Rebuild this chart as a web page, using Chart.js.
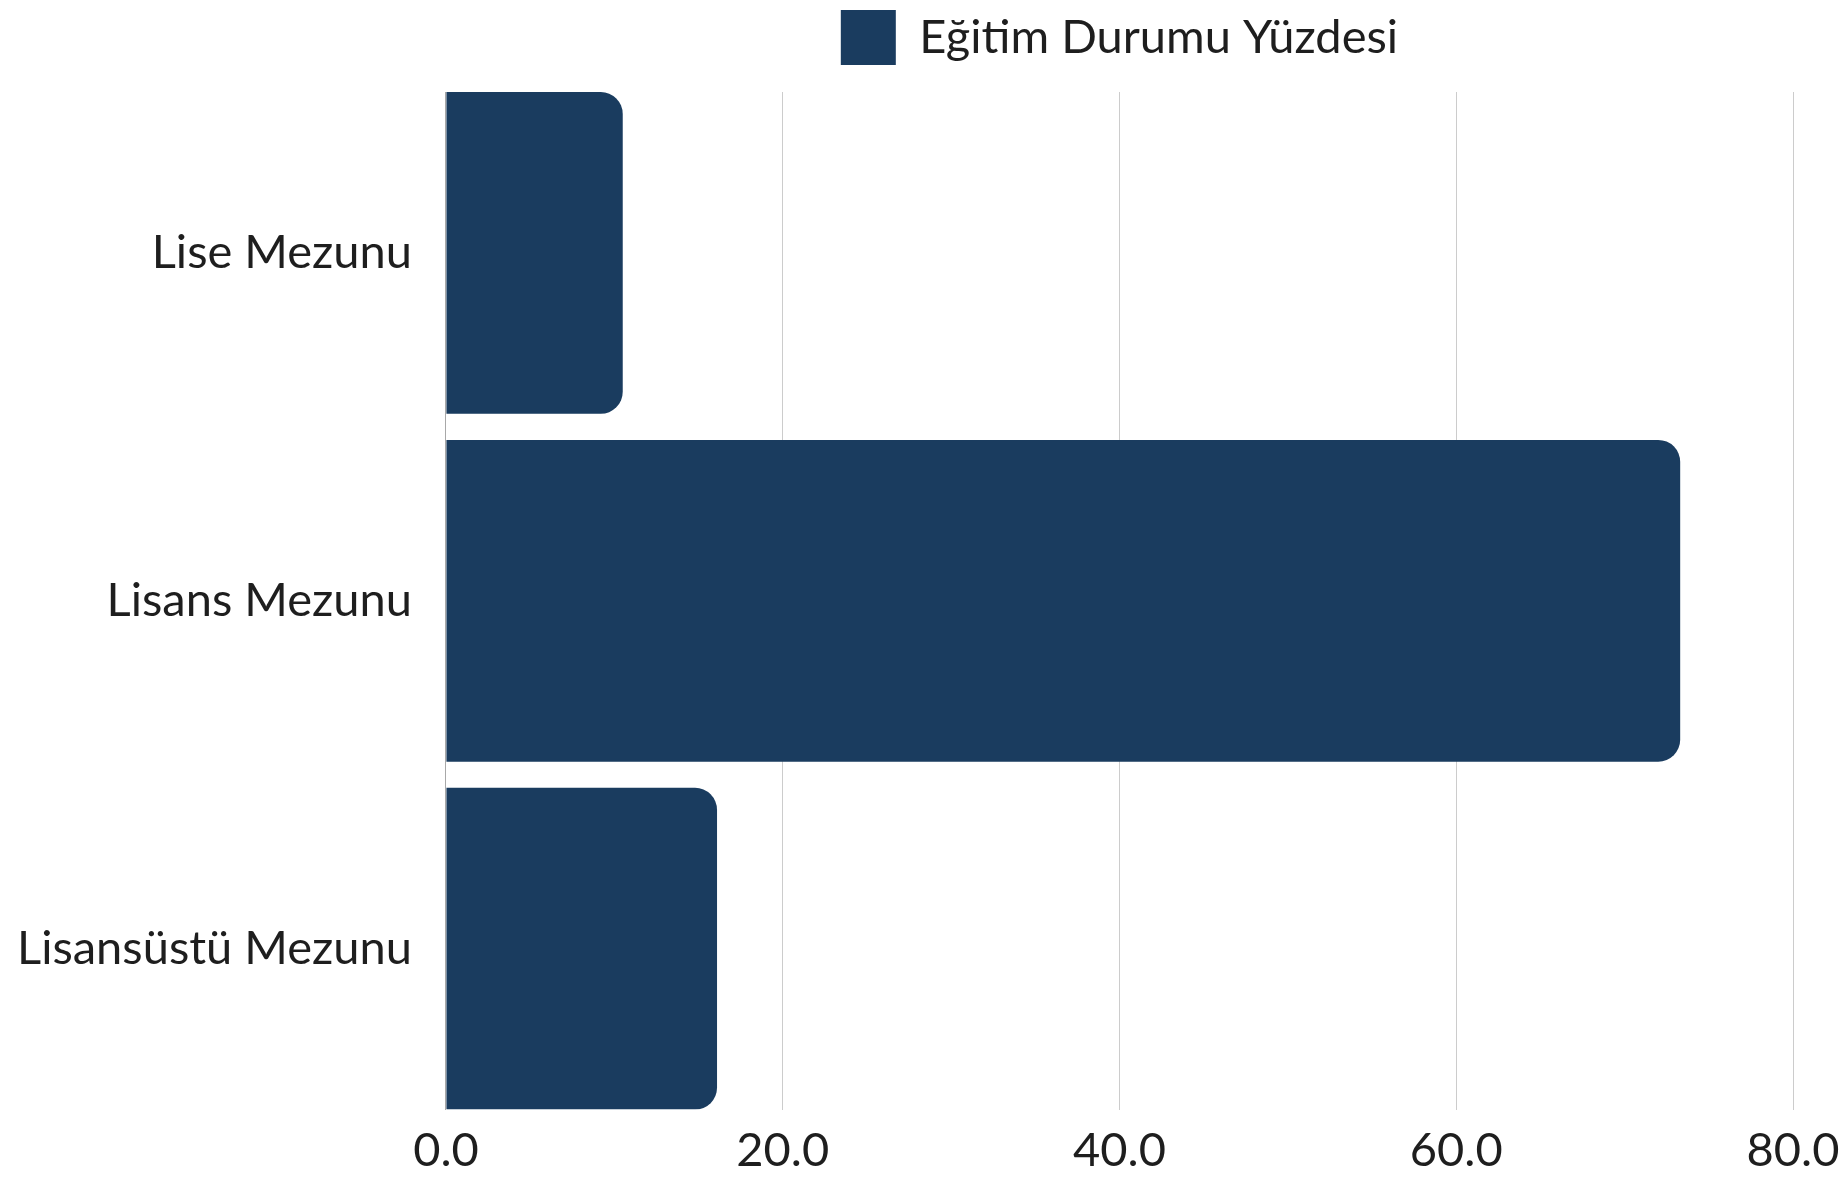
<!DOCTYPE html>
<html>
<head>
<meta charset="utf-8">
<script src="https://cdn.jsdelivr.net/npm/chart.js@4/dist/chart.umd.min.js"></script>
<style>
  html, body { margin: 0; padding: 0; background: #fff; }
  #wrap { width: 1847px; height: 1179px; }
</style>
</head>
<body>
<div id="wrap"><canvas id="egitimChart"></canvas></div>
<script>
// Veriler
const kategoriler = ['Lise Mezunu', 'Lisans Mezunu', 'Lisansüstü Mezunu'];
const yuzdeler = [10.5, 73.3, 16.1];
const seriAdi = 'Eğitim Durumu Yüzdesi';

Chart.defaults.font.family = 'Lato, "Noto Sans", sans-serif';
Chart.defaults.font.size = 47;
Chart.defaults.color = '#1e1e1e';

const ctx = document.getElementById('egitimChart').getContext('2d');

// legend ile grafik alani arasinda biraz bosluk
const legendBosluk = {
  id: 'legendBosluk',
  beforeInit(chart) {
    const fit = chart.legend.fit;
    chart.legend.fit = function () {
      fit.bind(chart.legend)();
      this.height += 17;
    };
  }
};

const egitimChart = new Chart(ctx, {
  type: 'bar',
  data: {
    datasets: [{
      label: seriAdi,
      data: yuzdeler.map((v, i) => ({ x: v, y: i })),
      backgroundColor: '#1a3c5f',
      borderRadius: 22,
      borderSkipped: 'start',
      barPercentage: 0.925,
      categoryPercentage: 1,
    }]
  },
  options: {
    indexAxis: 'y',
    responsive: true,
    maintainAspectRatio: false,
    animation: false,
    layout: { padding: { top: 0, left: 0, right: 54, bottom: 0 } },
    plugins: {
      legend: {
        position: 'top',
        fullSize: false,
        labels: {
          boxWidth: 55,
          boxHeight: 55,
          padding: 10,
          color: '#1e1e1e',
        },
      },
      tooltip: { enabled: false },
    },
    scales: {
      x: {
        type: 'linear',
        min: 0,
        max: 80,
        ticks: {
          stepSize: 20,
          padding: 0,
          callback: (v) => v.toFixed(1),
        },
        grid: { color: '#cccccc', drawTicks: true, tickLength: 13, tickColor: 'transparent' },
        border: { display: false },
      },
      y: {
        type: 'linear',
        reverse: true,
        offset: false,
        min: -0.4625,
        max: 2.4625,
        ticks: {
          stepSize: 1,
          includeBounds: false,
          padding: 17,
          callback: (v) => kategoriler[v] ?? '',
        },
        grid: { display: true, offset: false, drawOnChartArea: false, drawTicks: true, tickLength: 17, tickColor: 'transparent' },
        border: { display: true, color: '#a8a8a8', width: 1 },
      },
    },
  },
  plugins: [legendBosluk],
});
</script>
</body>
</html>
